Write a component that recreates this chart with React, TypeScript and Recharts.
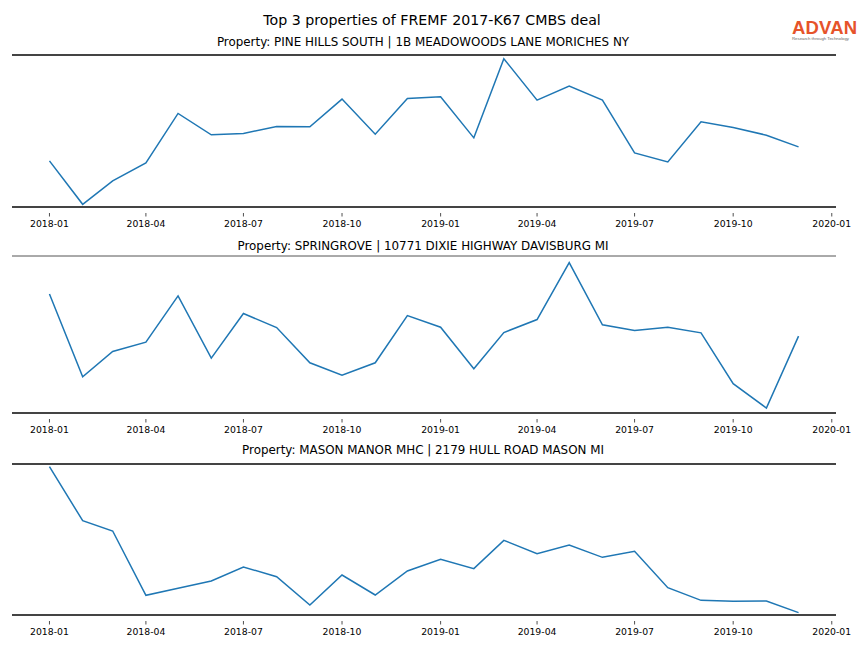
import React from 'react';
import { LineChart, Line, XAxis, YAxis, ReferenceLine } from 'recharts';

// monthly observations, Jan 2018 .. Dec 2019
const months = [
  '2018-01', '2018-02', '2018-03', '2018-04', '2018-05', '2018-06',
  '2018-07', '2018-08', '2018-09', '2018-10', '2018-11', '2018-12',
  '2019-01', '2019-02', '2019-03', '2019-04', '2019-05', '2019-06',
  '2019-07', '2019-08', '2019-09', '2019-10', '2019-11', '2019-12',
];

const tickLabels = [
  '2018-01', '2018-04', '2018-07', '2018-10',
  '2019-01', '2019-04', '2019-07', '2019-10', '2020-01',
];

const pineHills = [138, 8, 78, 132, 280, 216, 220, 241, 240, 323, 218, 325, 330, 207, 444, 320, 362, 320, 162, 135, 255, 238, 215, 180];
const springrove = [358, 109, 185, 213, 352, 165, 299, 257, 151, 114, 151, 293, 258, 133, 242, 281, 452, 265, 248, 258, 241, 88, 15, 231];
const masonManor = [445, 283, 252, 59, 80, 102, 144, 115, 30, 120, 60, 132, 167, 139, 224, 184, 210, 173, 191, 82, 44, 41, 42, 7];

const mainTitle = 'Top 3 properties of FREMF 2017-K67 CMBS deal';
const panelTitles = [
  'Property: PINE HILLS SOUTH | 1B MEADOWOODS LANE MORICHES NY',
  'Property: SPRINGROVE | 10771 DIXIE HIGHWAY DAVISBURG MI',
  'Property: MASON MANOR MHC | 2179 HULL ROAD MASON MI',
];

const toTs = (m: string) => {
  const [y, mo] = m.split('-').map(Number);
  return Date.UTC(y, mo - 1, 1);
};

const xTicks = tickLabels.map(toTs);
const first = toTs(months[0]);
const last = toTs(months[months.length - 1]);
const pad = (last - first) * 0.05;
const xDomain = [first - pad, last + pad];

const FONT = '"DejaVu Sans", sans-serif';

const DateTick = (props: any) => {
  const { x, y, payload } = props;
  const d = new Date(payload.value);
  const label = `${d.getUTCFullYear()}-${String(d.getUTCMonth() + 1).padStart(2, '0')}`;
  return (
    <g>
      <line x1={x} x2={x} y1={y + 6} y2={y + 9.5} stroke="#222" strokeWidth={0.8} />
      <text x={x} y={y + 16.5} textAnchor="middle" dominantBaseline="central" fontSize={9.3} fontFamily={FONT} fill="#000">
        {label}
      </text>
    </g>
  );
};

type PanelProps = {
  values: number[];
  yMax: number;
  top: number;
  height: number;
  marginTop: number;
  marginBottom: number;
  topSpineWidth: number;
};

function Panel({ values, yMax, top, height, marginTop, marginBottom, topSpineWidth }: PanelProps) {
  const data = months.map((m, i) => ({ t: toTs(m), v: values[i] }));
  return (
    <div style={{ position: 'absolute', left: 0, top }}>
      <LineChart width={864} height={height} data={data} margin={{ top: marginTop, right: 28, left: 12, bottom: marginBottom }}>
        <XAxis
          dataKey="t"
          type="number"
          scale="time"
          domain={xDomain}
          ticks={xTicks}
          interval={0}
          tick={<DateTick />}
          tickSize={0}
          tickMargin={0}
          tickLine={false}
          height={30}
          axisLine={{ stroke: '#444', strokeWidth: 2 }}
          allowDataOverflow
        />
        <YAxis hide domain={[0, yMax]} allowDataOverflow />
        <ReferenceLine y={yMax} stroke={topSpineWidth > 1 ? '#444' : '#555'} strokeWidth={topSpineWidth} />
        <Line type="linear" dataKey="v" stroke="#1f77b4" strokeWidth={1.5} dot={false} isAnimationActive={false} />
      </LineChart>
    </div>
  );
}

export default function App() {
  return (
    <div style={{ position: 'absolute', left: 0, top: 0, width: 864, height: 648, background: '#fff', fontFamily: FONT }}>
      <Panel values={pineHills} yMax={455} top={0} height={240} marginTop={55} marginBottom={3} topSpineWidth={2} />
      <Panel values={springrove} yMax={472} top={240} height={204} marginTop={16} marginBottom={1} topSpineWidth={1} />
      <Panel values={masonManor} yMax={453} top={444} height={204} marginTop={20} marginBottom={3} topSpineWidth={2} />
      <svg width={864} height={648} style={{ position: 'absolute', left: 0, top: 0, pointerEvents: 'none' }}>
        <text x={432} y={20} textAnchor="middle" dominantBaseline="central" fontSize={14.2} fontFamily={FONT} fill="#000">
          {mainTitle}
        </text>
        {panelTitles.map((t, i) => (
          <text key={t} x={423} y={[42, 246, 450][i]} textAnchor="middle" dominantBaseline="central" fontSize={11.9} fontFamily={FONT} fill="#000">
            {t}
          </text>
        ))}
        <text x={792} y={27} dominantBaseline="central" fontSize={18.5} fontWeight="bold" fontFamily='"Liberation Sans", Arial, sans-serif' fill="#E6532A" letterSpacing={0.2}>
          ADVAN
        </text>
        <text x={792} y={38.5} dominantBaseline="central" fontSize={4.3} fontFamily='"Liberation Sans", Arial, sans-serif' fill="#666">
          Research through Technology
        </text>
      </svg>
    </div>
  );
}
